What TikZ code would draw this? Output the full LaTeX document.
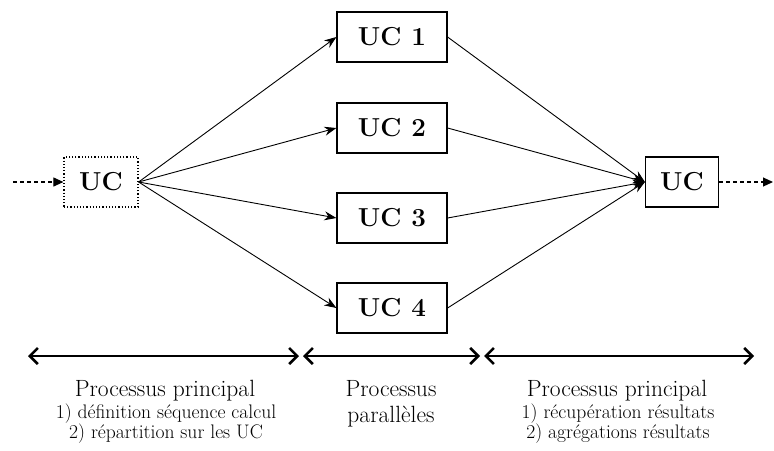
\documentclass[tikz,border=0pt]{standalone}
\usetikzlibrary{arrows.meta}
\begin{document}
\begin{tikzpicture}[x=1pt,y=-1pt,
  ucbox/.style={draw, line width=1.2pt, minimum height=50pt, inner sep=0pt,
    font=\fontsize{26}{28}\selectfont\bfseries},
  conn/.style={line width=0.9pt, -{Stealth[length=12pt,width=9pt]}},
  dconn/.style={line width=1.1pt, dash pattern=on 4pt off 3pt, -{Stealth[length=10pt,width=9pt,inset=0pt]}},
  span/.style={line width=2.6pt, {Straight Barb[length=8pt,width=16pt,line width=2.6pt]}-{Straight Barb[length=8pt,width=16pt,line width=2.6pt]}},
  head/.style={anchor=base, inner sep=0pt, font=\fontsize{23.5}{25}\selectfont},
  sub/.style={anchor=base, inner sep=0pt, font=\fontsize{19.6}{21}\selectfont}]
\useasboundingbox (0,0) rectangle (774,450);
\node[ucbox, dotted, minimum width=74pt] (L) at (101,182) {UC};
\node[ucbox, minimum width=110pt] (U1) at (392,37) {UC 1};
\node[ucbox, minimum width=110pt] (U2) at (392,128) {UC 2};
\node[ucbox, minimum width=110pt] (U3) at (392,218) {UC 3};
\node[ucbox, minimum width=110pt] (U4) at (392,308) {UC 4};
\node[ucbox, minimum width=73pt] (R) at (682,182) {UC};
\coordinate (in) at (13,182);
\coordinate (out) at (773,182);
\draw[dconn] (in) -- (L.west);
\draw[dconn] (R.east) -- (out);
\foreach \u in {U1,U2,U3,U4}{
  \draw[conn] (L.east) -- (\u.west);
  \draw[conn] (\u.east) -- (R.west);
}
\coordinate (a0) at (28,356);
\coordinate (a1) at (299,356);
\coordinate (a2) at (303,356);
\coordinate (a3) at (480,356);
\coordinate (a4) at (484,356);
\coordinate (a5) at (754,356);
\draw[span] (a0) -- (a1);
\draw[span] (a2) -- (a3);
\draw[span] (a4) -- (a5);
\node[head] (t1) at (165,396) {Processus principal};
\node[sub] (t1a) at (166,418) {1) définition séquence calcul};
\node[sub] (t1b) at (166,438) {2) répartition sur les UC};
\node[head] (t2) at (391,396) {Processus};
\node[head] (t2a) at (391,422) {parallèles};
\node[head] (t3) at (617,396) {Processus principal};
\node[sub] (t3a) at (618,418) {1) récupération résultats};
\node[sub] (t3b) at (618,438) {2) agrégations résultats};
\end{tikzpicture}
\end{document}
